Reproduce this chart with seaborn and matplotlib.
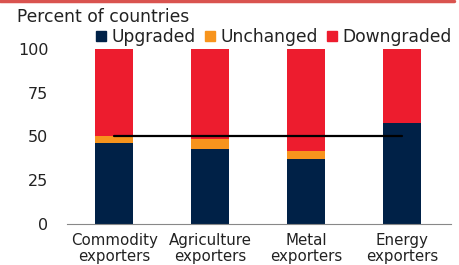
import pandas as pd
import matplotlib.pyplot as plt
from matplotlib.lines import Line2D
import seaborn as sns

# data
categories = ["Commodity\nexporters", "Agriculture\nexporters", "Metal\nexporters", "Energy\nexporters"]
upgraded = [46.5, 43.0, 37.0, 57.5]
unchanged = [3.5, 5.5, 4.5, 0.0]
downgraded = [50.0, 51.5, 58.5, 42.5]
average = [50, 50, 50, 50]
y_ticks = [0, 25, 50, 75, 100]

NAVY = "#002147"
ORANGE = "#F7941D"
RED = "#ED1C2E"
TXT = "#222222"

sns.set_style("white")
plt.rcParams["font.family"] = ["DejaVu Sans"]

df = pd.DataFrame({
    "cat": categories,
    "up": upgraded,
    "mid": [u + c for u, c in zip(upgraded, unchanged)],
    "total": [u + c + d for u, c, d in zip(upgraded, unchanged, downgraded)],
})

fig = plt.figure(figsize=(4.59, 2.65), dpi=100)
ax = fig.add_axes([0.146, 0.155, 0.837, 0.66])

# stacked bars drawn as cumulative layers
for col, c in [("total", RED), ("mid", ORANGE), ("up", NAVY)]:
    sns.barplot(data=df, x="cat", y=col, color=c, width=0.4, saturation=1,
                linewidth=0, edgecolor="none", ax=ax)

ax.plot(range(len(categories)), average, color="black", lw=1.6)

ax.set_xlim(-0.49, 3.51)
ax.set_ylim(0, 100)
ax.set_yticks(y_ticks)
ax.set_xlabel("")
ax.set_ylabel("")
ax.tick_params(axis="y", length=0, pad=13.5, labelsize=11.5, colors=TXT)
ax.tick_params(axis="x", length=0, pad=6.5, labelsize=10.8, colors=TXT)
for lbl in ax.get_xticklabels():
    lbl.set_linespacing(1.12)
for s in ["top", "right", "left"]:
    ax.spines[s].set_visible(False)
ax.spines["bottom"].set_color("#888888")
ax.spines["bottom"].set_linewidth(0.8)

fig.text(0.038, 0.935, "Percent of countries", fontsize=12.3, color=TXT, va="center")

handles = [
    Line2D([], [], marker="s", ls="", color=NAVY, markersize=7, label="Upgraded"),
    Line2D([], [], marker="s", ls="", color=ORANGE, markersize=7, label="Unchanged"),
    Line2D([], [], marker="s", ls="", color=RED, markersize=7, label="Downgraded"),
]
fig.legend(handles=handles, loc="center left", bbox_to_anchor=(0.209, 0.862), ncol=3,
           frameon=False, fontsize=12.3, handlelength=0.6, handletextpad=0.3,
           columnspacing=0.55, borderpad=0, borderaxespad=0, labelcolor=TXT)

# thin red rule at the top of the panel
fig.add_artist(Line2D([0, 0.99], [0.997, 0.997], transform=fig.transFigure,
                      color="#D9534F", lw=2.5, solid_capstyle="round"))

fig.savefig("out.png", dpi=100)
